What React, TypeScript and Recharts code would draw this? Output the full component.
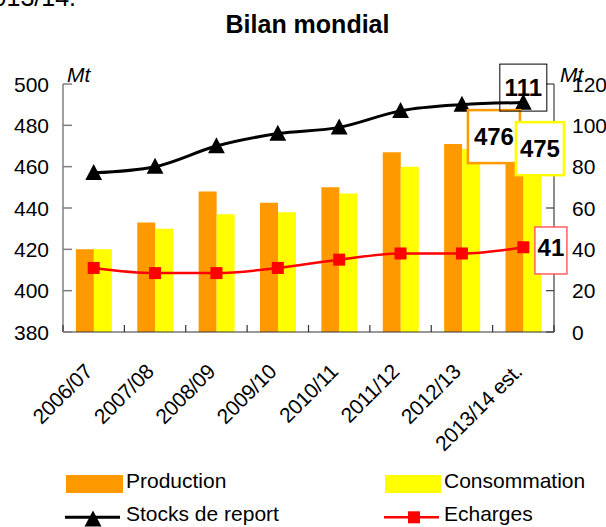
import React from 'react';
import { ComposedChart, Bar, Line, XAxis, YAxis, LabelList } from 'recharts';

const categories = ['2006/07', '2007/08', '2008/09', '2009/10', '2010/11', '2011/12', '2012/13', '2013/14 est.'];
const production = [420, 433, 448, 442.5, 450, 467, 471, 476];
const consommation = [420, 430, 437, 438, 447, 460, 468.5, 475];
const stocks = [77, 80, 90, 96, 99, 107, 110, 111];
const echanges = [31, 28.5, 28.5, 31, 35, 38, 38, 41];
const leftTicks = [380, 400, 420, 440, 460, 480, 500];
const rightTicks = [0, 20, 40, 60, 80, 100, 120];

const data = categories.map((cat, i) => ({
  cat,
  production: production[i],
  consommation: consommation[i],
  stocks: stocks[i],
  echanges: echanges[i],
}));

const W = 606;
const H = 527;
const PLOT_LEFT = 63;
const PLOT_RIGHT = 554;
const PLOT_TOP = 84;
const PLOT_BOTTOM = 332;
const BAND = (PLOT_RIGHT - PLOT_LEFT) / categories.length;
const FONT = '"Liberation Sans", Arial, sans-serif';
const LAST = categories.length - 1;

const LeftTick = (props: any) => {
  const { x, y, payload } = props;
  return (
    <g>
      <line x1={x} x2={x + 9} y1={y} y2={y} stroke="#808080" strokeWidth={1.5} />
      <text x={x - 14} y={y + 7.5} textAnchor="end" fontSize={21} fontFamily={FONT} fill="#000">
        {payload.value}
      </text>
    </g>
  );
};

const RightTick = (props: any) => {
  const { x, y, payload } = props;
  return (
    <g>
      <line x1={x - 8} x2={x} y1={y} y2={y} stroke="#404040" strokeWidth={1.2} />
      <text x={x + 18} y={y + 7.5} textAnchor="start" fontSize={21} fontFamily={FONT} fill="#000">
        {payload.value}
      </text>
    </g>
  );
};

const XTick = (props: any) => {
  const { x, y, payload, index } = props;
  const ex = x;
  const ey = y + 41;
  return (
    <g>
      <line x1={x - BAND / 2} x2={x - BAND / 2} y1={y} y2={y - 7} stroke="#333" strokeWidth={1.2} />
      {index === LAST && (
        <line x1={x + BAND / 2} x2={x + BAND / 2} y1={y} y2={y - 7} stroke="#333" strokeWidth={1.2} />
      )}
      <text
        x={ex}
        y={ey}
        transform={`rotate(-45 ${ex} ${ey})`}
        textAnchor="end"
        fontSize={21}
        letterSpacing={-0.3}
        fontFamily={FONT}
        fill="#000"
      >
        {payload.value}
      </text>
    </g>
  );
};

const TriangleDot = (props: any) => {
  const { cx, cy, index } = props;
  if (cx == null || cy == null) return null;
  return (
    <path
      key={`t${index}`}
      d={`M${cx},${cy - 8.8} L${cx + 8.4},${cy + 7.2} L${cx - 8.4},${cy + 7.2} Z`}
      fill="#000"
    />
  );
};

const SquareDot = (props: any) => {
  const { cx, cy, index } = props;
  if (cx == null || cy == null) return null;
  return <rect key={`s${index}`} x={cx - 6} y={cy - 6} width={12} height={12} fill="#FF0000" />;
};

type BoxOpts = {
  dx: number;
  dy: number;
  w: number;
  h: number;
  stroke: string;
  sw: number;
  fill: string;
  tdy?: number;
};

const makeBox = (o: BoxOpts) => (props: any) => {
  const { x, y, index, value } = props;
  if (index !== LAST || x == null || y == null) return null;
  const cx = Number(x) + o.dx;
  const cy = Number(y) + o.dy;
  return (
    <g>
      <rect x={cx - o.w / 2} y={cy - o.h / 2} width={o.w} height={o.h} fill={o.fill} stroke={o.stroke} strokeWidth={o.sw} />
      <text
        x={cx}
        y={cy + (o.tdy || 0) + 8.6}
        textAnchor="middle"
        fontWeight="bold"
        fontSize={24}
        fontFamily={FONT}
        fill="#000"
      >
        {value}
      </text>
    </g>
  );
};

const stocksBox = makeBox({ dx: 0, dy: -15, w: 47, h: 47, stroke: '#000', sw: 1, fill: 'none' });
const prodBox = makeBox({ dx: -29.4, dy: 3, w: 52, h: 53, stroke: '#FF9900', sw: 2.5, fill: '#fff' });
const consBox = makeBox({ dx: 16.6, dy: 13, w: 48, h: 53, stroke: '#FFFF00', sw: 2.5, fill: '#fff' });
const echBox = makeBox({ dx: 27.6, dy: 3.2, w: 32, h: 47, stroke: '#FF6060', sw: 1.5, fill: '#fff', tdy: -3 });

export default function App() {
  return (
    <div style={{ position: 'absolute', left: 0, top: 0, width: W, height: H, background: '#fff', overflow: 'hidden' }}>
      <ComposedChart
        width={W}
        height={H}
        data={data}
        margin={{ top: PLOT_TOP, right: 0, bottom: 0, left: 0 }}
        barCategoryGap="21%"
        barGap={0}
      >
        <XAxis
          dataKey="cat"
          xAxisId={0}
          height={H - PLOT_BOTTOM}
          interval={0}
          tickSize={0}
          tickMargin={0}
          tickLine={false}
          axisLine={{ stroke: '#333', strokeWidth: 1.2 }}
          tick={<XTick />}
        />
        <YAxis
          yAxisId="left"
          orientation="left"
          width={PLOT_LEFT}
          domain={[380, 500]}
          ticks={leftTicks}
          interval={0}
          allowDataOverflow
          tickSize={0}
          tickMargin={0}
          tickLine={false}
          axisLine={{ stroke: '#808080', strokeWidth: 1.5 }}
          tick={<LeftTick />}
        />
        <YAxis
          yAxisId="right"
          orientation="right"
          width={W - PLOT_RIGHT}
          domain={[0, 120]}
          ticks={rightTicks}
          interval={0}
          allowDataOverflow
          tickSize={0}
          tickMargin={0}
          tickLine={false}
          axisLine={{ stroke: '#404040', strokeWidth: 1.2 }}
          tick={<RightTick />}
        />
        <Bar yAxisId="left" dataKey="production" fill="#FF9900" isAnimationActive={false} />
        <Bar yAxisId="left" dataKey="consommation" fill="#FFFF00" isAnimationActive={false} />
        <Line
          yAxisId="left"
          dataKey="production"
          stroke="none"
          dot={false}
          activeDot={false}
          legendType="none"
          isAnimationActive={false}
        >
          <LabelList dataKey="production" content={prodBox} />
        </Line>
        <Line
          yAxisId="left"
          dataKey="consommation"
          stroke="none"
          dot={false}
          activeDot={false}
          legendType="none"
          isAnimationActive={false}
        >
          <LabelList dataKey="consommation" content={consBox} />
        </Line>
        <Line
          yAxisId="right"
          dataKey="stocks"
          type="monotone"
          stroke="#000"
          strokeWidth={3}
          dot={<TriangleDot />}
          activeDot={false}
          isAnimationActive={false}
        >
          <LabelList dataKey="stocks" content={stocksBox} />
        </Line>
        <Line
          yAxisId="right"
          dataKey="echanges"
          type="monotone"
          stroke="#FF0000"
          strokeWidth={2.5}
          dot={<SquareDot />}
          activeDot={false}
          isAnimationActive={false}
        >
          <LabelList dataKey="echanges" content={echBox} />
        </Line>
      </ComposedChart>
      <svg
        width={W}
        height={H}
        style={{ position: 'absolute', left: 0, top: 0, pointerEvents: 'none' }}
        fontFamily={FONT}
      >
        <text x={76} y={6} textAnchor="end" fontSize={25} fill="#000">2013/14.</text>
        <text x={307.5} y={33} textAnchor="middle" fontSize={25} fontWeight="bold" fill="#000">
          Bilan mondial
        </text>
        <text x={67} y={82} fontSize={21} fontStyle="italic" fill="#000">Mt</text>
        <text x={560} y={82} fontSize={21} fontStyle="italic" fill="#000">Mt</text>

        <rect x={66} y={475} width={57} height={18} fill="#FF9900" />
        <text x={126} y={487.5} fontSize={21} fill="#000">Production</text>
        <rect x={385} y={475} width={56} height={18} fill="#FFFF00" />
        <text x={444} y={487.5} fontSize={21} fill="#000">Consommation</text>

        <line x1={65} x2={120} y1={517.3} y2={517.3} stroke="#000" strokeWidth={3} />
        <path d="M93,510.5 L101.5,526.5 L84.5,526.5 Z" fill="#000" />
        <text x={126} y={521} fontSize={21} fill="#000">Stocks de report</text>
        <line x1={384} x2={439} y1={517.3} y2={517.3} stroke="#FF0000" strokeWidth={2.5} />
        <rect x={408} y={511.3} width={12} height={12} fill="#FF0000" />
        <text x={444} y={521} fontSize={21} fill="#000">Echarges</text>
      </svg>
    </div>
  );
}
